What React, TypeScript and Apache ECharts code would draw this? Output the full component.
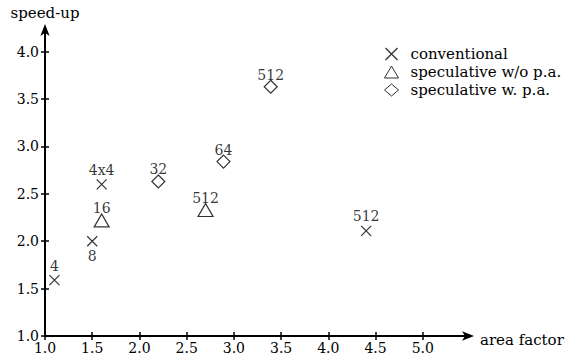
import React, { useEffect, useRef } from "react";
import * as echarts from "echarts";

// ---- data ----
const convX = [1.1, 1.5, 1.6, 4.4];
const convY = [1.59, 2.0, 2.6, 2.11];
const convLabels = ["4", "8", "4x4", "512"];

const specNoX = [1.6, 2.7];
const specNoY = [2.22, 2.33];
const specNoLabels = ["16", "512"];

const specPaX = [2.2, 2.89, 3.39];
const specPaY = [2.63, 2.84, 3.63];
const specPaLabels = ["32", "64", "512"];

const xTicks = [1.0, 1.5, 2.0, 2.5, 3.0, 3.5, 4.0, 4.5, 5.0];
const yTicks = [1.0, 1.5, 2.0, 2.5, 3.0, 3.5, 4.0];
const belowLabels = ["8"];

const FONT = "DejaVu Serif";

function build(xs: number[], ys: number[], labels: string[], dist: number) {
  return xs.map((x, i) => ({
    value: [x, ys[i]],
    name: labels[i],
    label: {
      position: belowLabels.includes(labels[i]) ? "bottom" : "top",
      distance: dist,
    },
  }));
}

export default function App() {
  const ref = useRef<HTMLDivElement>(null);
  useEffect(() => {
    if (!ref.current) return;
    const chart = echarts.init(ref.current, undefined, { renderer: "svg" });
    const labelStyle = {
      show: true,
      formatter: (p: any) => p.name,
      color: "#000",
      fontFamily: FONT,
      fontSize: 14,
    };
    const baseAxisX = {
      type: "value",
      min: 1,
      max: 5.5,
      splitLine: { show: false },
    };
    const baseAxisY = {
      type: "value",
      min: 1,
      max: 4.25,
      splitLine: { show: false },
    };
    chart.setOption({
      animation: false,
      backgroundColor: "#fff",
      textStyle: { fontFamily: FONT, color: "#000" },
      grid: { left: 45, right: 100, top: 28, bottom: 23, containLabel: false },
      xAxis: [
        {
          ...baseAxisX,
          position: "bottom",
          name: "area factor",
          nameLocation: "end",
          nameGap: 10,
          nameTextStyle: { fontFamily: FONT, fontSize: 15, color: "#000", verticalAlign: "top", padding: [-4, 0, 0, 0] },
          axisLine: { lineStyle: { color: "#000", width: 2 }, symbol: ["none", "arrow"], symbolSize: [7, 12], symbolOffset: [0, 4] },
          axisTick: { show: true, inside: false, length: 4, lineStyle: { color: "#000", width: 1.5 }, customValues: xTicks },
          axisLabel: { customValues: xTicks, fontFamily: FONT, fontSize: 14, color: "#000", margin: 5, formatter: (v: number) => v.toFixed(1) },
        },
        {
          ...baseAxisX,
          position: "bottom",
          axisLine: { show: false },
          axisTick: { show: true, inside: true, length: 4, lineStyle: { color: "#000", width: 1.5 }, customValues: xTicks },
          axisLabel: { show: false },
        },
      ],
      yAxis: [
        {
          ...baseAxisY,
          position: "left",
          name: "speed-up",
          nameLocation: "end",
          nameGap: 8,
          nameTextStyle: { fontFamily: FONT, fontSize: 15, color: "#000" },
          axisLine: { lineStyle: { color: "#000", width: 2 }, symbol: ["none", "arrow"], symbolSize: [7, 12], symbolOffset: [0, 4] },
          axisTick: { show: true, inside: false, length: 4, lineStyle: { color: "#000", width: 1.5 }, customValues: yTicks },
          axisLabel: { customValues: yTicks, fontFamily: FONT, fontSize: 14, color: "#000", margin: 6, formatter: (v: number) => v.toFixed(1) },
        },
        {
          ...baseAxisY,
          position: "left",
          axisLine: { show: false },
          axisTick: { show: true, inside: true, length: 4, lineStyle: { color: "#000", width: 1.5 }, customValues: yTicks },
          axisLabel: { show: false },
        },
      ],
      legend: {
        orient: "vertical",
        left: 378,
        top: 40,
        itemWidth: 14,
        itemHeight: 12,
        itemGap: 0,
        textStyle: { fontFamily: FONT, fontSize: 15, lineHeight: 18, color: "#000", padding: [0, 0, 0, 7] },
        data: [
          { name: "conventional", itemStyle: { borderWidth: 1.3 } },
          { name: "speculative w/o p.a.", itemStyle: { borderWidth: 1 } },
          { name: "speculative w. p.a.", itemStyle: { borderWidth: 1 } },
        ],
      },
      series: [
        {
          name: "conventional",
          type: "scatter",
          symbol: "path://M0,0L10,10M10,0L0,10",
          symbolSize: 10,
          itemStyle: { color: "none", borderColor: "#000", borderWidth: 1.2 },
          label: labelStyle,
          data: build(convX, convY, convLabels, 0),
        },
        {
          name: "speculative w/o p.a.",
          type: "scatter",
          symbol: "triangle",
          symbolSize: [15, 13],
          itemStyle: { color: "#fff", borderColor: "#000", borderWidth: 1.2 },
          label: labelStyle,
          data: build(specNoX, specNoY, specNoLabels, -2),
        },
        {
          name: "speculative w. p.a.",
          type: "scatter",
          symbol: "diamond",
          symbolSize: [13, 13],
          itemStyle: { color: "#fff", borderColor: "#000", borderWidth: 1.2 },
          label: labelStyle,
          data: build(specPaX, specPaY, specPaLabels, -2),
        },
      ],
    });
    return () => chart.dispose();
  }, []);
  return (
    <div
      ref={ref}
      style={{ position: "fixed", left: 0, top: 0, width: 570, height: 359, background: "#fff" }}
    />
  );
}
